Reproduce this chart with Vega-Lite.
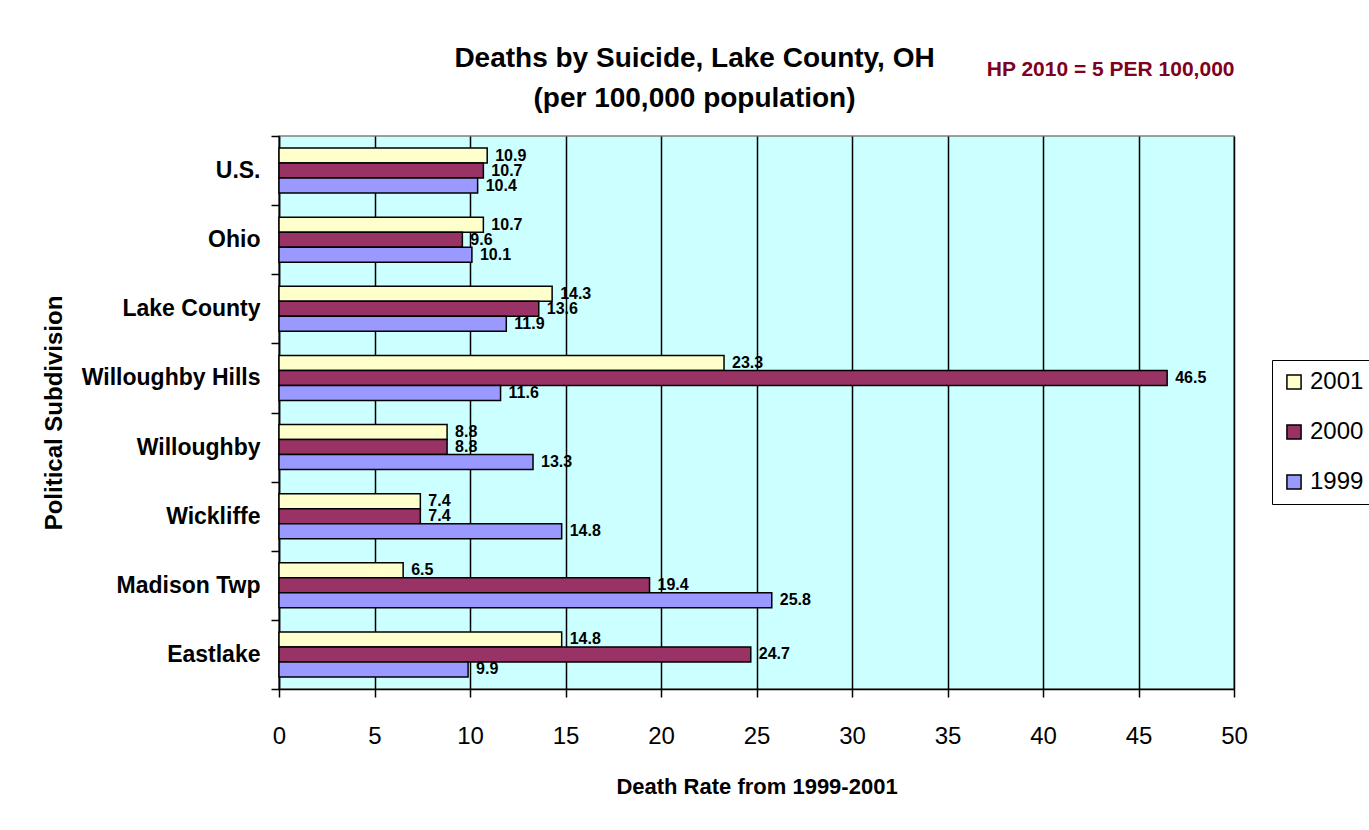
{
  "$schema": "https://vega.github.io/schema/vega-lite/v6.json",
  "width": 955,
  "height": 553,
  "padding": {"left": 42, "top": 45, "right": 0, "bottom": 30},
  "background": "white",
  "title": {
    "text": ["Deaths by Suicide, Lake County, OH", "(per 100,000 population)"],
    "font": "Liberation Sans",
    "fontSize": 28,
    "fontWeight": "bold",
    "color": "black",
    "lineHeight": 40,
    "anchor": "middle",
    "frame": "group",
    "dx": -62,
    "offset": -55
  },
  "data": {
    "values": [
      {"area": "U.S.", "year": "2001", "rate": 10.9},
      {"area": "U.S.", "year": "2000", "rate": 10.7},
      {"area": "U.S.", "year": "1999", "rate": 10.4},
      {"area": "Ohio", "year": "2001", "rate": 10.7},
      {"area": "Ohio", "year": "2000", "rate": 9.6},
      {"area": "Ohio", "year": "1999", "rate": 10.1},
      {"area": "Lake County", "year": "2001", "rate": 14.3},
      {"area": "Lake County", "year": "2000", "rate": 13.6},
      {"area": "Lake County", "year": "1999", "rate": 11.9},
      {"area": "Willoughby Hills", "year": "2001", "rate": 23.3},
      {"area": "Willoughby Hills", "year": "2000", "rate": 46.5},
      {"area": "Willoughby Hills", "year": "1999", "rate": 11.6},
      {"area": "Willoughby", "year": "2001", "rate": 8.8},
      {"area": "Willoughby", "year": "2000", "rate": 8.8},
      {"area": "Willoughby", "year": "1999", "rate": 13.3},
      {"area": "Wickliffe", "year": "2001", "rate": 7.4},
      {"area": "Wickliffe", "year": "2000", "rate": 7.4},
      {"area": "Wickliffe", "year": "1999", "rate": 14.8},
      {"area": "Madison Twp", "year": "2001", "rate": 6.5},
      {"area": "Madison Twp", "year": "2000", "rate": 19.4},
      {"area": "Madison Twp", "year": "1999", "rate": 25.8},
      {"area": "Eastlake", "year": "2001", "rate": 14.8},
      {"area": "Eastlake", "year": "2000", "rate": 24.7},
      {"area": "Eastlake", "year": "1999", "rate": 9.9}
    ]
  },
  "encoding": {
    "y": {
      "field": "area",
      "type": "nominal",
      "sort": ["U.S.", "Ohio", "Lake County", "Willoughby Hills", "Willoughby", "Wickliffe", "Madison Twp", "Eastlake"],
      "scale": {"paddingInner": 0, "paddingOuter": 0},
      "axis": {
        "title": "Political Subdivision",
        "titleFont": "Liberation Sans",
        "titleFontSize": 24,
        "titleFontWeight": "bold",
        "titleColor": "black",
        "titlePadding": 15,
        "labelFont": "Liberation Sans",
        "labelFontSize": 23,
        "labelFontWeight": "bold",
        "labelColor": "black",
        "labelPadding": 11,
        "tickBand": "extent",
        "tickSize": 8,
        "tickColor": "black",
        "tickWidth": 1.5,
        "domainColor": "black",
        "domainWidth": 1.5,
        "grid": false
      }
    },
    "yOffset": {
      "field": "year",
      "type": "nominal",
      "sort": ["2001", "2000", "1999"],
      "scale": {"paddingInner": 0, "paddingOuter": 0.8}
    }
  },
  "layer": [
    {
      "mark": {"type": "bar", "stroke": "black", "strokeWidth": 1.5},
      "encoding": {
        "x": {
          "field": "rate",
          "type": "quantitative",
          "scale": {"domain": [0, 50], "nice": false},
          "axis": {
            "orient": "bottom",
            "title": "Death Rate from 1999-2001",
            "titleFont": "Liberation Sans",
            "titleFontSize": 22,
            "titleFontWeight": "bold",
            "titleColor": "black",
            "titlePadding": 28,
            "values": [0, 5, 10, 15, 20, 25, 30, 35, 40, 45, 50],
            "labelFont": "Liberation Sans",
            "labelFontSize": 24,
            "labelColor": "black",
            "labelPadding": 27,
            "labelFlush": false,
            "tickSize": 8,
            "tickColor": "black",
            "tickWidth": 1.5,
            "domainColor": "black",
            "domainWidth": 1.5,
            "grid": true,
            "gridColor": "black",
            "gridOpacity": 1,
            "gridWidth": 1.5
          }
        },
        "color": {
          "field": "year",
          "type": "nominal",
          "sort": ["2001", "2000", "1999"],
          "scale": {"domain": ["2001", "2000", "1999"], "range": ["#FFFFCC", "#993366", "#9999FF"]},
          "legend": {
            "title": null,
            "orient": "none",
            "legendX": 993,
            "legendY": 224,
            "strokeColor": "black",
            "padding": 10,
            "labelFont": "Liberation Sans",
            "labelFontSize": 24,
            "labelColor": "black",
            "symbolType": "square",
            "symbolSize": 200,
            "symbolStrokeColor": "black",
            "symbolStrokeWidth": 1.5,
            "rowPadding": 26
          }
        }
      }
    },
    {
      "mark": {"type": "text", "align": "left", "baseline": "middle", "dx": 8, "font": "Liberation Sans", "fontSize": 16, "fontWeight": "bold", "color": "black"},
      "encoding": {
        "x": {
          "field": "rate",
          "type": "quantitative",
          "scale": {"domain": [0, 50], "nice": false},
          "axis": {
            "orient": "top",
            "title": "HP 2010 = 5 PER 100,000",
            "titleFont": "Liberation Sans",
            "titleFontSize": 21,
            "titleFontWeight": "bold",
            "titleColor": "#800020",
            "titleAnchor": "end",
            "titlePadding": 57,
            "labels": false,
            "ticks": false,
            "domain": false,
            "grid": false
          }
        },
        "text": {"field": "rate", "type": "quantitative", "format": ".1f"}
      }
    }
  ],
  "resolve": {"axis": {"x": "independent"}},
  "config": {
    "view": {"fill": "#CCFFFF", "stroke": "#808080", "strokeWidth": 1.5}
  }
}
